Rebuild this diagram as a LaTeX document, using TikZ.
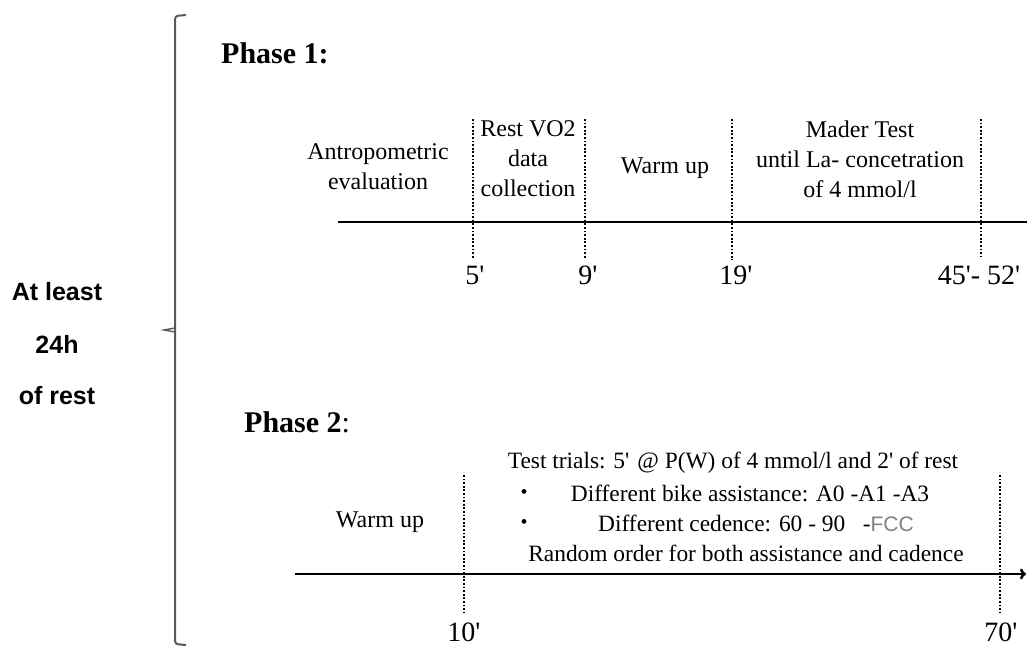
\documentclass[tikz,border=0pt]{standalone}
\usepackage{fontspec}
\setmainfont{Liberation Serif}[Ligatures=TeXOff]
\newfontfamily\arialfont{Liberation Sans}
\usetikzlibrary{arrows.meta}
\begin{document}
\begin{tikzpicture}[x=1pt,y=-1pt,
  txt/.style={inner sep=0pt, font=\fontsize{24}{30}\selectfont, align=center},
  txtb/.style={inner sep=0pt, font=\fontsize{23.4}{30}\selectfont, align=center},
  lbl/.style={inner sep=0pt, font=\fontsize{28}{30}\selectfont},
  ttl/.style={inner sep=0pt, font=\fontsize{30}{34}\selectfont\bfseries, anchor=west},
  restlbl/.style={inner sep=0pt, font=\arialfont\fontsize{25}{28}\selectfont\bfseries},
  axisline/.style={line width=2.6pt},
  tickline/.style={line width=2pt, dash pattern=on 1.8pt off 1.8pt},
  bracketline/.style={draw=black!65, line width=2pt},
  bul/.style={inner sep=0pt, font=\fontsize{20}{22}\selectfont}]
\useasboundingbox (0,0) rectangle (1027,647);

% bracket
\draw[bracketline, rounded corners=3pt] (186,15) -- (175,16) -- (175,644) -- (186,645);
\draw[draw=black!65, line width=1.4pt] (175,328) -- (164,330) -- (175,332);

% rest text
\node[restlbl] (r1) at (57,292) {At least};
\node[restlbl] (r2) at (57,344) {24h};
\node[restlbl] (r3) at (57,396) {of rest};

% Phase 1
\node[ttl] (p1) at (221,53) {Phase 1:};
\coordinate (a1s) at (338,222);
\coordinate (a1e) at (1027,222);
\draw[axisline] (a1s) -- (a1e);

\coordinate (t5a) at (473,119);  \coordinate (t5b) at (473,258);
\coordinate (t9a) at (585,119);  \coordinate (t9b) at (585,258);
\coordinate (t19a) at (732,119); \coordinate (t19b) at (732,260);
\coordinate (t45a) at (981,119); \coordinate (t45b) at (981,256);
\draw[tickline] (t5a) -- (t5b);
\draw[tickline] (t9a) -- (t9b);
\draw[tickline] (t19a) -- (t19b);
\draw[tickline] (t45a) -- (t45b);

\node[txt] (anthro) at (378,167) {Antropometric\\evaluation};
\node[txt] (restvo) at (528,159) {Rest VO2\\data\\collection};
\node[txt] (warm1) at (665,168) {Warm up};
\node[txt] (mader) at (860,159) {Mader Test\\until La- concetration\\of 4 mmol/l};

\node[lbl] (l5) at (475,275) {5'};
\node[lbl] (l9) at (588,275) {9'};
\node[lbl] (l19) at (736,275) {19'};
\node[lbl] (l45) at (979,275) {45'- 52'};

% Phase 2
\node[ttl] (p2) at (244,422) {Phase 2\textmd{:}};
\coordinate (a2s) at (295,574);
\coordinate (a2e) at (1026,574);
\draw[axisline, -{To[length=6pt,width=11pt]}] (a2s) -- (a2e);

\coordinate (t10a) at (464,475); \coordinate (t10b) at (464,612);
\coordinate (t70a) at (1000,475); \coordinate (t70b) at (1000,612);
\draw[tickline] (t10a) -- (t10b);
\draw[tickline] (t70a) -- (t70b);

\node[txt] (warm2) at (380,522) {Warm up};
\node[txtb] (trials) at (733,463) {Test trials: 5'\hspace{8pt}@ P(W) of 4 mmol/l and 2' of rest};
\node[bul] (b1) at (524,494) {\textbullet};
\node[bul] (b2) at (524,524) {\textbullet};
\node[txtb] (bike) at (750,493) {Different bike assistance: A0 -A1 -A3};
\node[txtb] (cad) at (756,523) {Different cedence: 60 - 90\ \ \ -{\color{black!50}\arialfont\fontsize{21}{26}\selectfont FCC}};
\node[txtb] (rand) at (746,553) {Random order for both assistance and cadence};

\node[lbl] (l10) at (464,632) {10'};
\node[lbl] (l70) at (1001,632) {70'};
\end{tikzpicture}
\end{document}
